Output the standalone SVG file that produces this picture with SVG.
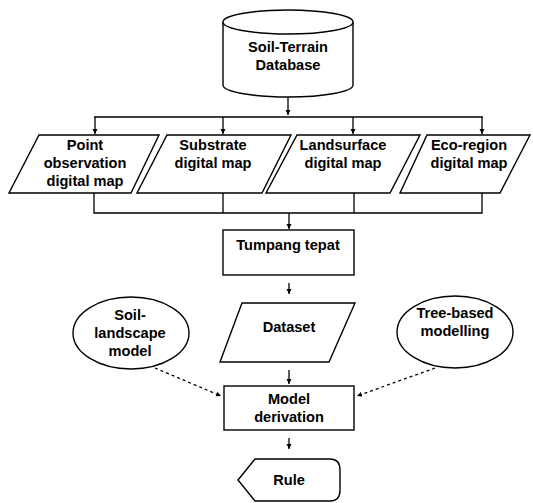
<svg xmlns="http://www.w3.org/2000/svg" width="533" height="503" viewBox="0 0 533 503">
<defs>
<style>
.s{fill:#fff;stroke:#000;stroke-width:1.4}
.l{fill:none;stroke:#000;stroke-width:1.3}
.d{fill:none;stroke:#000;stroke-width:1.3;stroke-dasharray:3 3}
text{font-family:"Liberation Sans",Arial,sans-serif;font-weight:bold;font-size:14.6px;text-anchor:middle;fill:#000}
</style>
<marker id="a" markerWidth="6" markerHeight="6" refX="5" refY="3" orient="auto" markerUnits="userSpaceOnUse">
<path d="M0,0.5 L5,3 L0,5.5 Z" fill="#000"/>
</marker>
</defs>
<rect width="533" height="503" fill="#fff"/>
<g id="connectors">
<path class="l" d="M288,97 V115" marker-end="url(#a)"/>
<path class="l" d="M94,117 H483"/>
<path class="l" d="M95,117 V134" marker-end="url(#a)"/>
<path class="l" d="M223,117 V134" marker-end="url(#a)"/>
<path class="l" d="M353,117 V134" marker-end="url(#a)"/>
<path class="l" d="M482,117 V134" marker-end="url(#a)"/>
<path class="l" d="M94,193 V213 H482 V193"/>
<path class="l" d="M223,193 V213"/>
<path class="l" d="M354,193 V213"/>
<path class="l" d="M289,213 V229" marker-end="url(#a)"/>
<path class="l" d="M289,283 V294" marker-end="url(#a)"/>
<path class="l" d="M289,370 V384" marker-end="url(#a)"/>
<path class="l" d="M289,438 V449" marker-end="url(#a)"/>
<path class="d" d="M155,368 L221,396" marker-end="url(#a)"/>
<path class="d" d="M435,368 L357,396" marker-end="url(#a)"/>
</g>
<g id="database">
<path class="s" d="M223,22 V85 A65,12 0 0 0 353,85 V22"/>
<ellipse class="s" cx="288" cy="22" rx="65" ry="12"/>
<text x="288" y="52">Soil-Terrain</text>
<text x="288" y="70">Database</text>
</g>
<g id="point-map">
<polygon class="s" points="39,135 159,135 131,193 9,193"/>
<text x="85" y="150">Point</text>
<text x="85" y="168">observation</text>
<text x="85" y="186">digital map</text>
</g>
<g id="substrate-map">
<polygon class="s" points="167,135 291,135 262,193 137,193"/>
<text x="213" y="150">Substrate</text>
<text x="213" y="168">digital map</text>
</g>
<g id="landsurface-map">
<polygon class="s" points="297,135 420,135 390,193 266,193"/>
<text x="343" y="150">Landsurface</text>
<text x="343" y="168">digital map</text>
</g>
<g id="ecoregion-map">
<polygon class="s" points="427,135 530,135 500,193 400,193"/>
<text x="469" y="150">Eco-region</text>
<text x="469" y="168">digital map</text>
</g>
<g id="tumpang">
<rect class="s" x="223" y="230" width="131" height="45"/>
<text x="288" y="250">Tumpang tepat</text>
</g>
<g id="dataset">
<polygon class="s" points="242,303 355,303 329,362 220,362"/>
<text x="289" y="332">Dataset</text>
</g>
<g id="soil-landscape">
<ellipse class="s" cx="131" cy="333" rx="58" ry="36"/>
<text x="130" y="320">Soil-</text>
<text x="130" y="338">landscape</text>
<text x="130" y="356">model</text>
</g>
<g id="tree-based">
<ellipse class="s" cx="455" cy="332" rx="58" ry="36"/>
<text x="455" y="318">Tree-based</text>
<text x="455" y="336">modelling</text>
</g>
<g id="model-derivation">
<rect class="s" x="224" y="386" width="130" height="44"/>
<text x="289" y="404">Model</text>
<text x="289" y="422">derivation</text>
</g>
<g id="rule">
<path class="s" d="M238,480 L255,459 H330 Q340,459 340,470 V490 Q340,501 330,501 H255 Z"/>
<text x="289" y="485">Rule</text>
</g>
</svg>
